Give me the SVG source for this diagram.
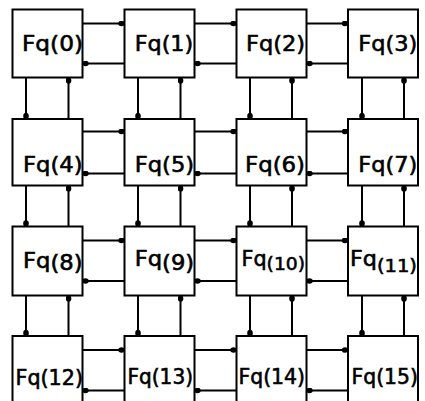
<svg xmlns="http://www.w3.org/2000/svg" width="425" height="401" viewBox="0 0 425 401">
<style>
.box{fill:#fff;stroke:#000;stroke-width:2}
.c line{stroke:#000;stroke-width:2;marker-end:url(#dot)}
text{font-family:"DejaVu Sans","Liberation Sans",sans-serif;font-size:21.5px;fill:#000;stroke:#000;stroke-width:0.6}
.r2{font-size:20.5px}
.r3{font-size:20.5px}
</style>
<defs>
<marker id="dot" viewBox="0 0 8 6" refX="6.5" refY="3" markerWidth="8" markerHeight="6" markerUnits="userSpaceOnUse" orient="auto">
<ellipse cx="3.5" cy="3" rx="3.2" ry="2.8" fill="#000"/>
</marker>
</defs>
<rect width="425" height="401" fill="#fff"/>
<g id="connectors" class="c">
<line x1="82.5" y1="23.5" x2="124.5" y2="23.5"/>
<line x1="124.5" y1="63.5" x2="82.5" y2="63.5"/>
<line x1="194.5" y1="23.5" x2="236.5" y2="23.5"/>
<line x1="236.5" y1="63.5" x2="194.5" y2="63.5"/>
<line x1="306.5" y1="23.5" x2="348" y2="23.5"/>
<line x1="348" y1="63.5" x2="306.5" y2="63.5"/>
<line x1="82.5" y1="131.5" x2="124.5" y2="131.5"/>
<line x1="124.5" y1="173.5" x2="82.5" y2="173.5"/>
<line x1="194.5" y1="131.5" x2="236.5" y2="131.5"/>
<line x1="236.5" y1="173.5" x2="194.5" y2="173.5"/>
<line x1="306.5" y1="131.5" x2="348" y2="131.5"/>
<line x1="348" y1="173.5" x2="306.5" y2="173.5"/>
<line x1="82.5" y1="240.5" x2="124.5" y2="240.5"/>
<line x1="124.5" y1="281" x2="82.5" y2="281"/>
<line x1="194.5" y1="240.5" x2="236.5" y2="240.5"/>
<line x1="236.5" y1="281" x2="194.5" y2="281"/>
<line x1="306.5" y1="240.5" x2="348" y2="240.5"/>
<line x1="348" y1="281" x2="306.5" y2="281"/>
<line x1="82.5" y1="350" x2="124.5" y2="350"/>
<line x1="124.5" y1="390.5" x2="82.5" y2="390.5"/>
<line x1="194.5" y1="350" x2="236.5" y2="350"/>
<line x1="236.5" y1="390.5" x2="194.5" y2="390.5"/>
<line x1="306.5" y1="350" x2="348" y2="350"/>
<line x1="348" y1="390.5" x2="306.5" y2="390.5"/>
<line x1="26" y1="77.5" x2="26" y2="119"/>
<line x1="68.5" y1="119" x2="68.5" y2="77.5"/>
<line x1="138" y1="77.5" x2="138" y2="119"/>
<line x1="180.5" y1="119" x2="180.5" y2="77.5"/>
<line x1="250" y1="77.5" x2="250" y2="119"/>
<line x1="292" y1="119" x2="292" y2="77.5"/>
<line x1="362" y1="77.5" x2="362" y2="119"/>
<line x1="404" y1="119" x2="404" y2="77.5"/>
<line x1="26" y1="185.5" x2="26" y2="226.5"/>
<line x1="68.5" y1="226.5" x2="68.5" y2="185.5"/>
<line x1="138" y1="185.5" x2="138" y2="226.5"/>
<line x1="180.5" y1="226.5" x2="180.5" y2="185.5"/>
<line x1="250" y1="185.5" x2="250" y2="226.5"/>
<line x1="292" y1="226.5" x2="292" y2="185.5"/>
<line x1="362" y1="185.5" x2="362" y2="226.5"/>
<line x1="404" y1="226.5" x2="404" y2="185.5"/>
<line x1="26" y1="295.5" x2="26" y2="336"/>
<line x1="68.5" y1="336" x2="68.5" y2="295.5"/>
<line x1="138" y1="295.5" x2="138" y2="336"/>
<line x1="180.5" y1="336" x2="180.5" y2="295.5"/>
<line x1="250" y1="295.5" x2="250" y2="336"/>
<line x1="292" y1="336" x2="292" y2="295.5"/>
<line x1="362" y1="295.5" x2="362" y2="336"/>
<line x1="404" y1="336" x2="404" y2="295.5"/>
</g>
<g id="n0"><rect class="box" x="12.5" y="9.5" width="70" height="68"/><text x="22" y="51" textLength="61" lengthAdjust="spacingAndGlyphs">Fq(0)</text></g>
<g id="n1"><rect class="box" x="124.5" y="9.5" width="70" height="68"/><text x="134.7" y="51" textLength="58.5" lengthAdjust="spacingAndGlyphs">Fq(1)</text></g>
<g id="n2"><rect class="box" x="236.5" y="9.5" width="70" height="68"/><text x="246" y="51" textLength="59" lengthAdjust="spacingAndGlyphs">Fq(2)</text></g>
<g id="n3"><rect class="box" x="348" y="9.5" width="70" height="68"/><text x="358.3" y="51" textLength="59" lengthAdjust="spacingAndGlyphs">Fq(3)</text></g>
<g id="n4"><rect class="box" x="12.5" y="119" width="70" height="66.5"/><text x="23" y="172" textLength="59.5" lengthAdjust="spacingAndGlyphs">Fq(4)</text></g>
<g id="n5"><rect class="box" x="124.5" y="119" width="70" height="66.5"/><text x="134.7" y="172" textLength="59.5" lengthAdjust="spacingAndGlyphs">Fq(5)</text></g>
<g id="n6"><rect class="box" x="236.5" y="119" width="70" height="66.5"/><text x="245" y="172" textLength="60" lengthAdjust="spacingAndGlyphs">Fq(6)</text></g>
<g id="n7"><rect class="box" x="348" y="119" width="70" height="66.5"/><text x="358.3" y="172" textLength="59" lengthAdjust="spacingAndGlyphs">Fq(7)</text></g>
<g id="n8"><rect class="box" x="12.5" y="226.5" width="70" height="69"/><text class="r2" x="23" y="268" textLength="59.5" lengthAdjust="spacingAndGlyphs">Fq<tspan dy="2">(8)</tspan></text></g>
<g id="n9"><rect class="box" x="124.5" y="226.5" width="70" height="69"/><text class="r2" x="134.7" y="266" textLength="59.5" lengthAdjust="spacingAndGlyphs">Fq<tspan dy="4">(9)</tspan></text></g>
<g id="n10"><rect class="box" x="236.5" y="226.5" width="70" height="69"/><text class="r2" x="241.5" y="266" textLength="63.5" lengthAdjust="spacingAndGlyphs">Fq<tspan dy="4" font-size="18.5">(10)</tspan></text></g>
<g id="n11"><rect class="box" x="348" y="226.5" width="70" height="69"/><text class="r2" x="350" y="266" textLength="67" lengthAdjust="spacingAndGlyphs">Fq<tspan dy="6" font-size="18">(11)</tspan></text></g>
<g id="n12"><path class="box" d="M12.5,401 V336 H82.5 V401"/><text class="r3" x="15.5" y="385" textLength="67.5" lengthAdjust="spacingAndGlyphs">Fq(12)</text></g>
<g id="n13"><path class="box" d="M124.5,401 V336 H194.5 V401"/><text class="r3" x="127.5" y="384" textLength="65.5" lengthAdjust="spacingAndGlyphs">Fq(13)</text></g>
<g id="n14"><path class="box" d="M236.5,401 V336 H306.5 V401"/><text class="r3" x="238.5" y="384" textLength="66.5" lengthAdjust="spacingAndGlyphs">Fq(14)</text></g>
<g id="n15"><path class="box" d="M348,401 V336 H418 V401"/><text class="r3" x="351.5" y="384" textLength="66.5" lengthAdjust="spacingAndGlyphs">Fq(15)</text></g>
</svg>
